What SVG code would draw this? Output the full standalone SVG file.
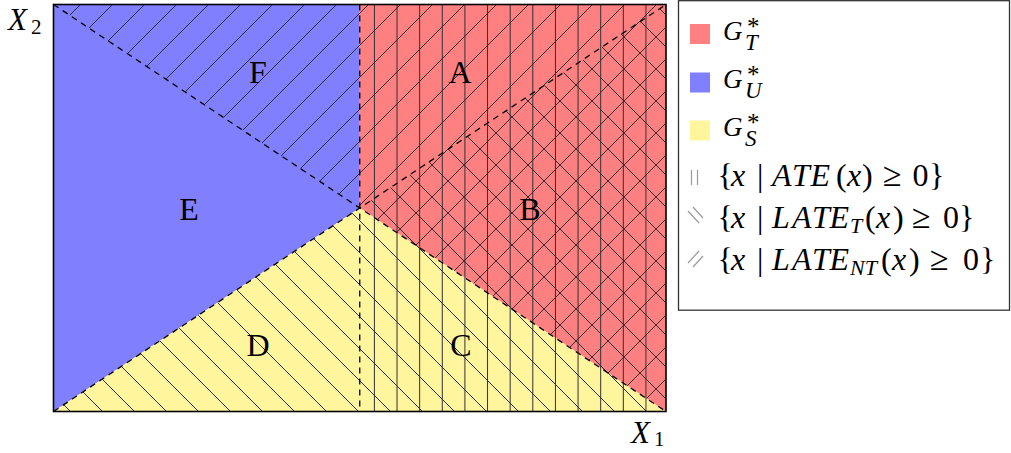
<svg xmlns="http://www.w3.org/2000/svg" width="1011" height="453" viewBox="0 0 1011 453">
<style>
.h{stroke:#2e2e36;stroke-width:1;fill:none}
.dash{stroke:#000;stroke-width:1.3;stroke-dasharray:6 5;fill:none}
.lbl{font-family:"Liberation Serif","DejaVu Serif",serif;fill:#000}
.m{font-family:"Liberation Serif","DejaVu Serif",serif;fill:#000}
.i{font-style:italic}
.ic{stroke:#999;stroke-width:1.2;fill:none}
</style>
<defs>
<pattern id="pv" patternUnits="userSpaceOnUse" x="1" y="0" width="22.63" height="20"><path class="h" d="M11.3,-1V21"/></pattern>
<pattern id="pb" patternUnits="userSpaceOnUse" x="11" y="0" width="32" height="32"><path class="h" d="M-2,-2L34,34M-2,30L2,34M30,-2L34,2"/></pattern>
<pattern id="pf" patternUnits="userSpaceOnUse" x="21" y="0" width="32" height="32"><path class="h" d="M-2,34L34,-2M-2,2L2,-2M30,34L34,30"/></pattern>
</defs>
<g id="region-red">
<polygon points="359.75,4.5 666,4.5 666,411.5 359.75,208" fill="#FF8080"/>
</g>
<g id="region-blue">
<polygon points="53.5,4.5 359.75,4.5 359.75,208 53.5,411.5" fill="#8080FF"/>
</g>
<g id="region-yellow">
<polygon points="53.5,411.5 359.75,208 666,411.5" fill="#FFF59D"/>
</g>
<g id="hatching">
<rect x="359.75" y="4.5" width="306.25" height="407" fill="url(#pv)"/>
<polygon points="53.5,411.5 666,4.5 666,411.5" fill="url(#pb)"/>
<polygon points="53.5,4.5 666,4.5 666,411.5" fill="url(#pf)"/>
</g>
<g id="connectors">
<line class="dash" x1="359.75" y1="4.5" x2="359.75" y2="411.5"/>
<line class="dash" x1="53.5" y1="4.5" x2="666" y2="411.5"/>
<line class="dash" x1="53.5" y1="411.5" x2="666" y2="4.5"/>
</g>
<g id="frame">
<rect x="53.5" y="4.5" width="612.5" height="407" fill="none" stroke="#000" stroke-width="1.6"/>
</g>
<g id="node-A"><text class="lbl" font-size="32" x="460" y="83" text-anchor="middle">A</text></g>
<g id="node-B"><text class="lbl" font-size="32" x="530" y="220" text-anchor="middle">B</text></g>
<g id="node-C"><text class="lbl" font-size="32" x="461" y="356" text-anchor="middle">C</text></g>
<g id="node-D"><text class="lbl" font-size="32" x="258" y="356" text-anchor="middle">D</text></g>
<g id="node-E"><text class="lbl" font-size="32" x="189" y="220" text-anchor="middle">E</text></g>
<g id="node-F"><text class="lbl" font-size="32" x="258" y="83" text-anchor="middle">F</text></g>
<g id="axis-labels">
<text class="lbl i" x="8" y="30" font-size="31">X<tspan x="31" y="34" font-size="21" font-style="normal">2</tspan></text>
<text class="lbl i" x="631" y="443" font-size="31">X<tspan x="654" y="446" font-size="21" font-style="normal">1</tspan></text>
</g>
<g id="legend">
<rect x="678.5" y="0.7" width="331" height="309.5" fill="none" stroke="#333" stroke-width="1.3"/>
<rect x="690" y="24" width="20" height="20" fill="#FF8080"/>
<rect x="690" y="72.5" width="20" height="20" fill="#8080FF"/>
<rect x="690" y="120.5" width="20" height="20" fill="#FFF59D"/>
<text class="m i" x="723" y="40" font-size="27">G<tspan x="747" y="35" font-size="25" font-style="normal">*</tspan><tspan x="745" y="50" font-size="23">T</tspan></text>
<text class="m i" x="723" y="88" font-size="27">G<tspan x="747" y="83" font-size="25" font-style="normal">*</tspan><tspan x="745" y="98" font-size="23">U</tspan></text>
<text class="m i" x="723" y="136" font-size="27">G<tspan x="747" y="131" font-size="25" font-style="normal">*</tspan><tspan x="745" y="146" font-size="23">S</tspan></text>
<path class="ic" d="M691.5,170V185M697.5,170V185"/>
<path class="ic" d="M688,211L699,223M693,207L703,218"/>
<path class="ic" d="M688,263L699,251M693,267L703,256"/>
<text class="m" font-size="32"><tspan x="717.5" y="186">{</tspan><tspan class="i" x="731">x</tspan><tspan x="757">|</tspan><tspan class="i" x="772">A</tspan><tspan class="i" x="792">T</tspan><tspan class="i" x="810.5">E</tspan><tspan x="836">(</tspan><tspan class="i" x="847">x</tspan><tspan x="862">)</tspan><tspan x="883" font-size="34">≥</tspan><tspan x="912.5">0</tspan><tspan x="929">}</tspan></text>
<text class="m" font-size="32"><tspan x="717.5" y="228">{</tspan><tspan class="i" x="731">x</tspan><tspan x="757">|</tspan><tspan class="i" x="772">L</tspan><tspan class="i" x="792">A</tspan><tspan class="i" x="812">T</tspan><tspan class="i" x="829.5">E</tspan><tspan class="i" font-size="22" x="850" y="233">T</tspan><tspan x="865" y="228">(</tspan><tspan class="i" x="876">x</tspan><tspan x="893">)</tspan><tspan x="912" font-size="34">≥</tspan><tspan x="943">0</tspan><tspan x="959">}</tspan></text>
<text class="m" font-size="32"><tspan x="717.5" y="270">{</tspan><tspan class="i" x="731">x</tspan><tspan x="757">|</tspan><tspan class="i" x="772">L</tspan><tspan class="i" x="792">A</tspan><tspan class="i" x="812">T</tspan><tspan class="i" x="829.5">E</tspan><tspan class="i" font-size="22" x="850" y="275">NT</tspan><tspan x="881" y="270">(</tspan><tspan class="i" x="892">x</tspan><tspan x="909">)</tspan><tspan x="930" font-size="34">≥</tspan><tspan x="963">0</tspan><tspan x="980">}</tspan></text>
</g>
</svg>
